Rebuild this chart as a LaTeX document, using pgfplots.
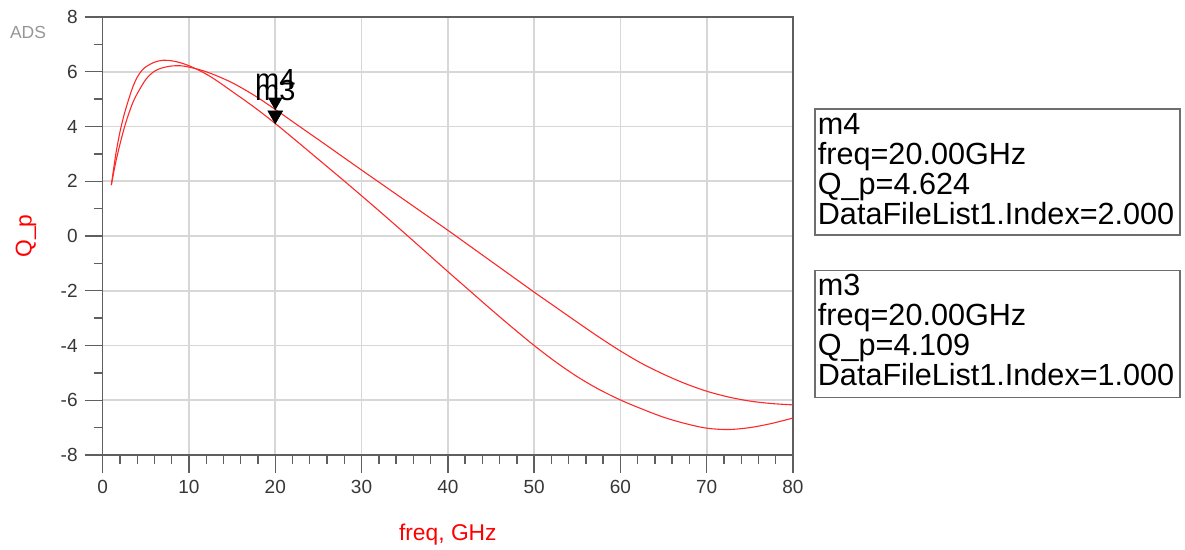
\documentclass[border=0pt]{standalone}
\usepackage{fontspec}
\setmainfont{Liberation Sans}
\usepackage{pgfplots}
\usepackage{pgfplotstable}
\pgfplotsset{compat=1.18}
\definecolor{axgray}{RGB}{95,95,95}
\definecolor{gridgray}{RGB}{215,215,215}
\definecolor{tickgray}{RGB}{55,55,55}
\definecolor{boxgray}{RGB}{110,110,110}
\definecolor{adsgray}{RGB}{150,150,150}
\definecolor{curvered}{RGB}{255,40,40}

\pgfplotstableread{
f q
1 1.86
1.5 2.95
2 3.8
2.5 4.45
3 4.98
3.5 5.45
4 5.8
4.5 6.03
5 6.18
6 6.35
7 6.42
8 6.40
9 6.33
10 6.22
11.5 6.0
13 5.72
15 5.28
17.5 4.72
20 4.11
22.5 3.46
25 2.8
27.5 2.14
30 1.47
32.5 0.79
35 0.1
37.5 -0.6
40 -1.3
42.5 -1.99
45 -2.68
47.5 -3.35
50 -4.0
52.5 -4.6
55 -5.14
57.5 -5.6
60 -5.99
62.5 -6.32
65 -6.62
67.5 -6.85
70 -7.02
72.5 -7.07
75 -7.0
77.5 -6.85
80 -6.65
}\indexone

\pgfplotstableread{
f q
1 1.86
1.5 2.68
2 3.35
2.5 3.95
3 4.45
3.5 4.88
4 5.2
5 5.72
6 6.02
7 6.15
8 6.21
9 6.22
10 6.17
11.5 6.05
13 5.88
15 5.6
17.5 5.15
20 4.624
22.5 4.07
25 3.52
27.5 2.965
30 2.41
32.5 1.86
35 1.31
37.5 0.76
40 0.21
42.5 -0.355
45 -0.92
47.5 -1.485
50 -2.05
52.5 -2.6
55 -3.15
57.5 -3.69
60 -4.2
62.5 -4.66
65 -5.05
67.5 -5.39
70 -5.67
72.5 -5.88
75 -6.03
77.5 -6.12
80 -6.17
}\indextwo

\begin{document}
\begin{tikzpicture}
\path[use as bounding box] (-51.35pt,-47.5pt) rectangle (541.15pt,227.5pt);
\begin{axis}[
  at={(0,0)}, anchor=south west,
  scale only axis, width=345.15pt, height=219pt,
  xmin=0, xmax=80, ymin=-8, ymax=8,
  xtick={0,10,...,80}, ytick={-8,-6,...,8},
  minor x tick num=4, minor y tick num=1,
  tick pos=left, tick align=outside,
  major tick length=9pt, minor tick length=4.5pt,
  grid=major,
  major grid style={gridgray, line width=0.8pt},
  axis line style={axgray, line width=0.8pt},
  major tick style={axgray, line width=0.7pt},
  minor tick style={axgray, line width=0.7pt},
  /pgf/number format/assume math mode=true,
  tick label style={font=\fontsize{9.5}{11}\selectfont, text=tickgray},
  xlabel={freq, GHz}, ylabel={Q\_p},
  label style={font=\fontsize{11.4}{13}\selectfont, text=red},
  xlabel style={at={(axis description cs:0.5,-0.1826)}, anchor=center},
  ylabel style={at={(axis description cs:-0.1111,0.5)}, anchor=center},
  clip=false,
]
\addplot[curvered, line width=0.55pt, smooth] table[x=f, y=q] {\indexone};
\addplot[curvered, line width=0.55pt, smooth] table[x=f, y=q] {\indextwo};
\addplot[only marks, mark=triangle*, mark size=3.8pt,
  mark options={yshift=3.8pt, rotate=180, fill=black, draw=black}]
  coordinates {(20,4.624)}
  node[anchor=base, yshift=10.15pt, font=\fontsize{14.5}{14}\selectfont, text=black, inner sep=0pt] {m4};
\addplot[only marks, mark=triangle*, mark size=4.2pt,
  mark options={yshift=4.2pt, rotate=180, fill=black, draw=black}]
  coordinates {(20,4.109)}
  node[anchor=base, yshift=11.7pt, font=\fontsize{14.5}{14}\selectfont, text=black, inner sep=0pt] {m3};
\end{axis}
\node[anchor=base, text=adsgray, font=\fontsize{8.75}{10}\selectfont] at (-37.35pt,208.35pt) {ADS};
\draw[boxgray, line width=0.8pt] (356.15pt,110pt) rectangle (538.65pt,172.85pt);
\draw[boxgray, line width=0.8pt] (356.15pt,28.65pt) rectangle (538.65pt,92.15pt);
\begin{scope}[every node/.style={anchor=base west, inner sep=0pt, font=\fontsize{15.3}{15}\selectfont, text=black}]
\node at (357.4pt,160pt) {m4};
\node at (357.4pt,145pt) {freq=20.00GHz};
\node at (357.4pt,130pt) {Q\_p=4.624};
\node at (357.4pt,115pt) {DataFileList1.Index=2.000};
\node at (357.4pt,79.5pt) {m3};
\node at (357.4pt,64.5pt) {freq=20.00GHz};
\node at (357.4pt,49.5pt) {Q\_p=4.109};
\node at (357.4pt,34.5pt) {DataFileList1.Index=1.000};
\end{scope}
\end{tikzpicture}
\end{document}
